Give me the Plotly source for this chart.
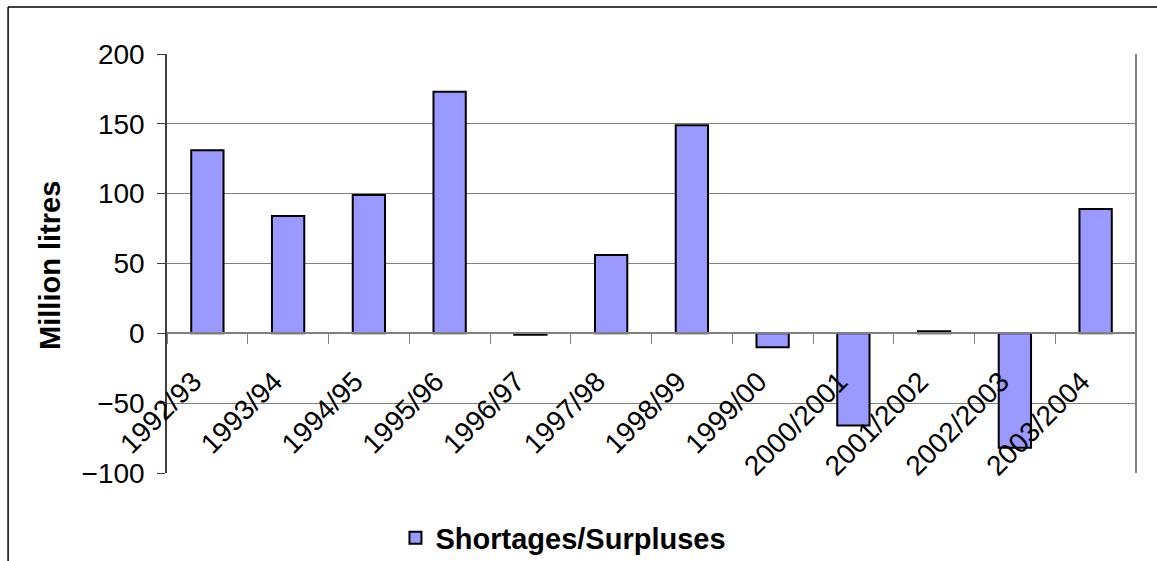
import plotly.graph_objects as go

seasons = ["1992/93", "1993/94", "1994/95", "1995/96", "1996/97", "1997/98",
           "1998/99", "1999/00", "2000/2001", "2001/2002", "2002/2003", "2003/2004"]
balance = [131, 84, 99, 173, -1, 56, 149, -10, -66, 1.5, -82, 89]
y_ticks = [-100, -50, 0, 50, 100, 150, 200]

fig = go.Figure()
fig.add_trace(go.Bar(
    x=seasons, y=balance,
    name="Shortages/Surpluses",
    marker=dict(color="#9999FF", line=dict(color="black", width=2)),
    showlegend=True,
))

grey = "#808080"
fig.update_layout(
    width=1157, height=561,
    margin=dict(l=167, r=21, t=54, b=88),
    paper_bgcolor="white", plot_bgcolor="white",
    font=dict(family="Liberation Sans, Arial, sans-serif", color="black", size=28),
    bargap=0.6,
    showlegend=True,
    legend=dict(orientation="h", xref="container", yref="container",
                x=0.487, xanchor="center", y=0.041, yanchor="middle",
                font=dict(size=29, family="Liberation Sans, Arial, sans-serif", weight="bold"),
                itemwidth=30),
    xaxis=dict(
        type="category", anchor="free", position=1/3, automargin=False,
        showline=True, linecolor=grey, linewidth=1.5,
        ticks="outside", tickson="boundaries", ticklen=10, tickcolor=grey,
        tickangle=-45, showgrid=False, ticklabelstandoff=20, ticklabelshift=-14,
        tickfont=dict(size=28),
    ),
    yaxis=dict(
        range=[-100, 200], tickvals=y_ticks, automargin=False,
        showline=True, linecolor="#404040", linewidth=1.5,
        ticks="outside", ticklen=8, tickcolor="#404040",
        showgrid=True, gridcolor=grey, gridwidth=1.2,
        zeroline=False, tickfont=dict(size=28), ticklabelstandoff=7,
    ),
    shapes=[
        # plot area right edge
        dict(type="line", xref="paper", yref="paper", x0=1, x1=1, y0=0, y1=1,
             line=dict(color=grey, width=2)),
        # outer chart frame
        dict(type="line", xref="paper", yref="paper", x0=-0.164, x1=1.1, y0=1.112, y1=1.112,
             line=dict(color="black", width=1.5)),
        dict(type="line", xref="paper", yref="paper", x0=-0.164, x1=-0.164, y0=-0.5, y1=1.112,
             line=dict(color="black", width=1.5)),
    ],
    annotations=[
        dict(text="<b>Million litres</b>", xref="paper", yref="paper",
             x=-0.121, y=0.496, xanchor="center", yanchor="middle",
             textangle=-90, showarrow=False, font=dict(size=29)),
    ],
)

fig.write_html("out.html", config={"displayModeBar": False},
               post_script="document.body.style.margin='0';")
